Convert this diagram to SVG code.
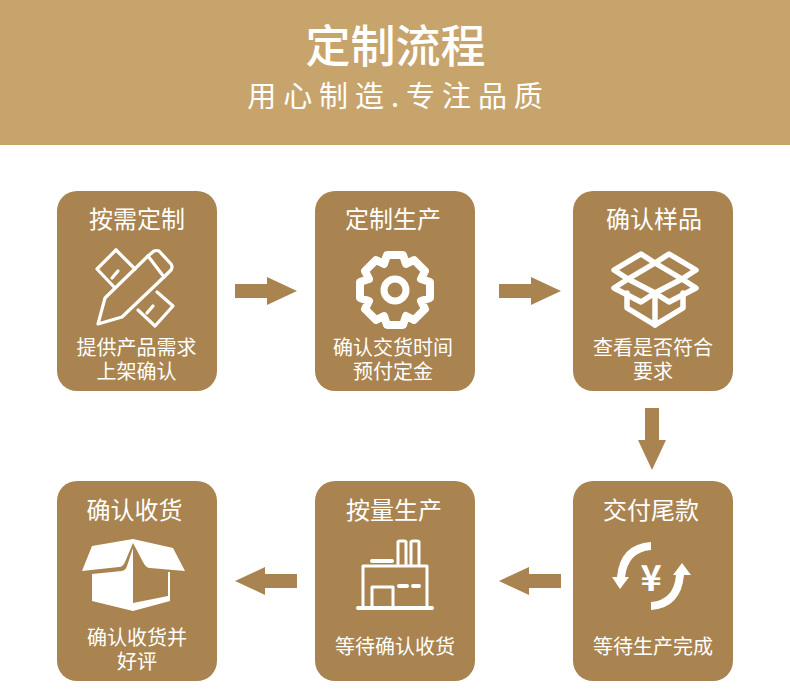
<svg xmlns="http://www.w3.org/2000/svg" width="790" height="699" viewBox="0 0 790 699">
<style>
text{font-family:"Noto Sans CJK SC","Noto Sans",sans-serif;fill:#fff;text-anchor:middle}
.card{fill:#a98450}
.t{font-size:24px;font-weight:400}
.s{font-size:20px;font-weight:400}
.arrow{fill:#a98450}
.ln{fill:none;stroke:#fff;stroke-linejoin:round;stroke-linecap:round}
.fl{fill:#fff}
</style>
<rect width="790" height="699" fill="#fff"/>
<g id="header">
<rect width="790" height="145" fill="#c8a46d"/>
<text x="395.500" y="63" font-size="45" font-weight="500">定制流程</text>
<text x="398.500" y="107" font-size="29" font-weight="400" letter-spacing="6.950">用心制造.专注品质</text>
</g>
<g id="connectors">
<path class="arrow" d="M235 284H267V277L297 291L267 305V298H235Z"/>
<path class="arrow" d="M499 284H531V277L561 291L531 305V298H499Z"/>
<path class="arrow" d="M645 408H659V440H666L652 470L638 440H645Z"/>
<path class="arrow" d="M561 574H529V567L499 581L529 595V588H561Z"/>
<path class="arrow" d="M297 574H265V567L235 581L265 595V588H297Z"/>
</g>
<g id="n1">
<rect class="card" x="57" y="191" width="160" height="200" rx="20"/>
<text class="t" x="137" y="228">按需定制</text>
<g class="ln" stroke-width="3.200">
<path d="M116 250L97 269L115 288"/>
<path d="M116 250L135 269"/>
<path d="M118 271L112 278"/>
<path d="M157 292L173 306L155 326L138 310"/>
<path d="M153 306L147 313"/>
<path d="M148 256L154 251Q157 250 159 251L171 264Q173 267 171 270L164 277"/>
<path d="M148 256L164 277"/>
<path d="M148 256L105 298L98 324L122 317L164 277"/>
</g>
<text class="s" x="136.500" y="355">提供产品需求</text>
<text class="s" x="136.500" y="379">上架确认</text>
</g>
<g id="n2">
<rect class="card" x="315" y="191" width="160" height="200" rx="20"/>
<text class="t" x="393" y="228">定制生产</text>
<path class="ln" stroke-width="8" d="M387 255H403L406 264L414 260L425 271L421 279L430 282V298L421 301L425 309L414 320L406 316L403 325H387L384 316L376 320L365 309L369 301L360 298V282L369 279L365 271L376 260L384 264Z"/>
<circle cx="395" cy="290" r="11" fill="none" stroke="#fff" stroke-width="7"/>
<text class="s" x="393" y="355">确认交货时间</text>
<text class="s" x="393" y="379">预付定金</text>
</g>
<g id="n3">
<rect class="card" x="573" y="191" width="160" height="200" rx="20"/>
<text class="t" x="654" y="228">确认样品</text>
<g class="ln" stroke-width="5.500">
<path d="M641 254L614 270L628 279L614 288L641 302L655 293L669 302L696 288L682 279L696 270L669 254L655 263Z"/>
<path d="M655 263L628 279L655 293L682 279Z"/>
<path d="M627 293V308L655 325L683 308V293"/>
<path d="M655 293V325"/>
</g>
<text class="s" x="653" y="355">查看是否符合</text>
<text class="s" x="653" y="379">要求</text>
</g>
<g id="n4">
<rect class="card" x="57" y="481" width="160" height="200" rx="20"/>
<text class="t" x="134.500" y="519">确认收货</text>
<path class="fl" d="M92 546L133 539L173 548L185 571L150 568Q146 568 143 562L133 543L125 562Q123 567 119 567L82 571Z"/>
<path class="fl" d="M92 574L122 571Q126 570 127 566L133 548V611L92 601Z"/>
<path class="fl" d="M133 603L168 596V572H170V601L133 611Z"/>
<text class="s" x="137" y="645">确认收货并</text>
<text class="s" x="137" y="669">好评</text>
</g>
<g id="n5">
<rect class="card" x="315" y="481" width="160" height="200" rx="20"/>
<text class="t" x="394" y="519">按量生产</text>
<g class="ln" stroke-width="3">
<path d="M363 606V566H427V606"/>
<path d="M398 564V542Q398 541 400 541H404Q406 541 406 542V564M411 564V542Q411 541 413 541H417Q419 541 419 542V564"/>
<path d="M372 606V587H393V606"/>
</g>
<path class="ln" stroke-width="4" d="M358 608H432M372 561H392M399 586H407M413 586H419"/>
<text class="s" x="395" y="654">等待确认收货</text>
</g>
<g id="n6">
<rect class="card" x="573" y="481" width="160" height="200" rx="20"/>
<text class="t" x="651" y="519">交付尾款</text>
<path class="fl" d="M651 542V550Q628 552 625 577H629L620 589L612 577H617Q620 544 651 542Z"/>
<path class="fl" d="M651 610V602Q674 600 676 575H673L682 563L691 575H684Q681 608 651 610Z"/>
<text x="651" y="591" font-size="36" font-weight="700">¥</text>
<text class="s" x="653" y="654">等待生产完成</text>
</g>
</svg>
